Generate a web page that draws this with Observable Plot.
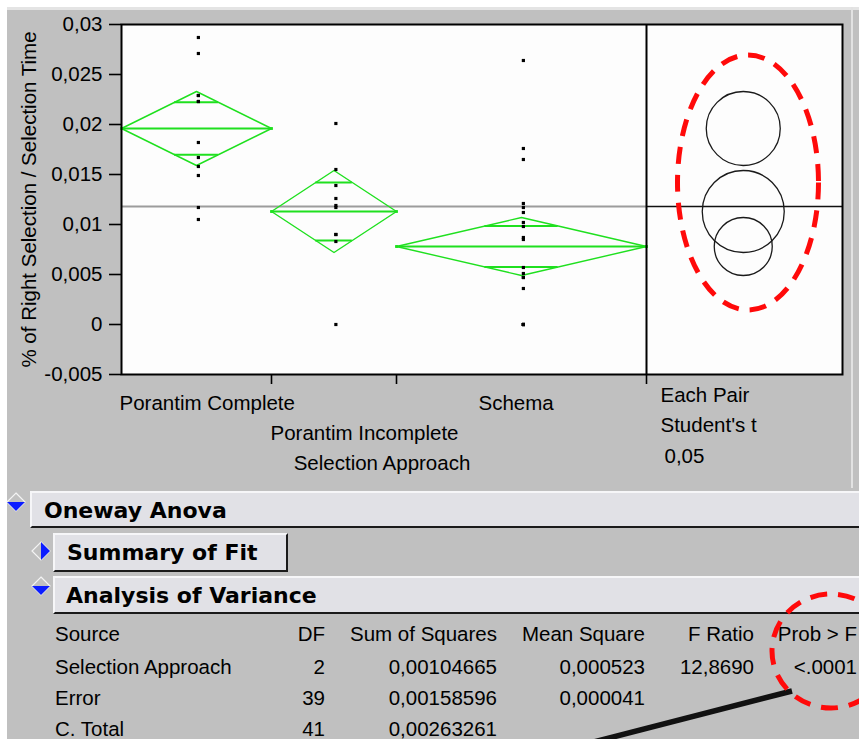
<!DOCTYPE html>
<html><head><meta charset="utf-8">
<script src="https://cdn.jsdelivr.net/npm/d3@7"></script>
<script src="https://cdn.jsdelivr.net/npm/@observablehq/plot@0.6"></script>
<style>
html,body{margin:0;padding:0;background:#fff;width:859px;height:739px;overflow:hidden;position:relative;}
#page{position:absolute;left:7px;top:7px;width:852px;height:732px;background:#c0c0c0;border-top:3px solid #e4e4e4;box-sizing:border-box;}
#vline{position:absolute;left:851px;top:7px;width:2px;height:481px;background:#e2e2e2;}
#chart{position:absolute;left:0;top:0;}
.bar{position:absolute;background:#e1e1e6;box-sizing:border-box;border-top:2px solid #f6f6f8;border-left:2px solid #f6f6f8;border-bottom:2px solid #1a1a1a;}
.btn{position:absolute;background:#e1e1e6;box-sizing:border-box;border-top:2px solid #f6f6f8;border-left:2px solid #f6f6f8;border-bottom:2px solid #1a1a1a;border-right:2px solid #1a1a1a;}
.bt{position:absolute;font-family:"DejaVu Sans",Verdana,sans-serif;font-weight:bold;font-size:22px;line-height:22px;color:#000;white-space:nowrap;}
.cell{position:absolute;font-family:"Liberation Sans",Arial,sans-serif;font-size:20.5px;line-height:20.5px;color:#000;white-space:nowrap;}
#overlay{position:absolute;left:0;top:0;pointer-events:none;}
</style>
</head><body>
<div id="page"></div>
<div id="vline"></div>
<div id="chart"></div>
<div id="bottom"></div>
<script>
// ---------- data ----------
const groups = ["Porantim Complete", "Porantim Incomplete", "Schema"];
const groupN = [12, 10, 20];
const groupMeans = [0.0196, 0.0113, 0.0078];
const groupHalfCI = [0.0037, 0.0041, 0.0029];
const pcValues = [0.0287, 0.0271, 0.0229, 0.0229, 0.0223, 0.0223, 0.0182, 0.0167, 0.0158, 0.0149, 0.0117, 0.0105];
const piValues = [0.0201, 0.0155, 0.0139, 0.0126, 0.0119, 0.0117, 0.0090, 0.0090, 0.0083, 0.0];
const schemaValues = [0.0264, 0.0176, 0.0165, 0.0121, 0.0117, 0.0112, 0.0102, 0.0098, 0.0087, 0.0085, 0.0057, 0.0051, 0.0047, 0.0047, 0.0036, 0, 0, 0, 0, 0];
const grandMean = 0.0118;
const yTicks = [-0.005, 0, 0.005, 0.01, 0.015, 0.02, 0.025, 0.03];
const yLabel = "% of Right Selection / Selection Time";
const xLabel = "Selection Approach";
const compareLabels = ["Each Pair", "Student's t", "0,05"];
const anovaHeader = ["Source", "DF", "Sum of Squares", "Mean Square", "F Ratio", "Prob > F"];
const anovaSources = ["Selection Approach", "Error", "C. Total"];
const anovaDF = ["2", "39", "41"];
const anovaSS = ["0,00104665", "0,00158596", "0,00263261"];
const anovaMS = ["0,000523", "0,000041", ""];
const anovaF = ["12,8690", "", ""];
const anovaP = ["<.0001", "", ""];
const sectionTitles = ["Oneway Anova", "Summary of Fit", "Analysis of Variance"];

// ---------- layout ----------
const W = 859, H = 480, mL = 121, mT = 24, mR = 17, mB = 106;
const green = "#1fe01f";
const nTotal = d3.sum(groupN);
const ends = d3.cumsum(groupN);
const starts = ends.map((e, i) => e - groupN[i]);
const panelUnits = 15.68;            // width of the comparison-circle panel (x units)
const panelCenter = nTotal + panelUnits / 2 - 0.1;
const yDomain = [-0.005, 0.03];
const ppu = (H - mT - mB) / (yDomain[1] - yDomain[0]);
const ellipseNote = {x: 50.16, y: 0.01415, rx: 5.64, ry: 0.01275};

const values = [pcValues, piValues, schemaValues];
const points = values.flatMap((vs, i) => vs.map(v => ({g: groups[i], x: (starts[i] + ends[i]) / 2 + 0.15, y: v})));
const rows = groups.map((g, i) => ({g, x0: starts[i], x1: ends[i], xm: (starts[i] + ends[i]) / 2, m: groupMeans[i], h: groupHalfCI[i]}));
const diamond = rows.flatMap(r => [[r.x0, r.m], [r.xm, r.m + r.h], [r.x1, r.m], [r.xm, r.m - r.h], [r.x0, r.m]].map(([x, y]) => ({g: r.g, x, y})));
const overlap = rows.flatMap(r => {
  const d = r.h / Math.SQRT2, half = (r.x1 - r.x0) / 2 * (1 - 1 / Math.SQRT2);
  return [r.m + d, r.m - d].map(y => ({y, x1: r.xm - half, x2: r.xm + half}));
});
const tips = rows.flatMap(r => [{x: r.x0, y: r.m}, {x: r.x1, y: r.m}]);
const fmt = v => String(v).replace(".", ",");

const plot = Plot.plot({
  width: W, height: H,
  marginLeft: mL, marginTop: mT, marginRight: mR, marginBottom: mB,
  style: {background: "transparent", fontFamily: "'Liberation Sans', Arial, sans-serif", fontSize: "20.5px", color: "#000"},
  x: {domain: [0, nTotal + panelUnits]},
  y: {domain: yDomain},
  r: {type: "linear", domain: [0, 0.01], range: [0, 0.01 * ppu]},
  marks: [
    Plot.frame({fill: "#fdfdfd", stroke: null}),
    Plot.ruleY([grandMean], {x1: 0, x2: nTotal, stroke: "#9c9c9c", strokeWidth: 2}),
    Plot.ruleY([grandMean], {x1: nTotal, x2: nTotal + panelUnits, stroke: "#111", strokeWidth: 1.6}),
    Plot.line(diamond, {x: "x", y: "y", z: "g", stroke: green, strokeWidth: 1.4}),
    Plot.ruleY(rows, {y: "m", x1: "x0", x2: "x1", stroke: green, strokeWidth: 2}),
    Plot.ruleY(overlap, {y: "y", x1: "x1", x2: "x2", stroke: green, strokeWidth: 2}),
    Plot.dot(tips, {x: "x", y: "y", symbol: "square", r: 1.6, fill: green}),
    Plot.dot(points, {x: "x", y: "y", symbol: "square", r: 1.8, fill: "#000"}),
    Plot.dot(rows, {x: panelCenter, y: "m", r: "h", stroke: "#1a1a1a", fill: "none", strokeWidth: 1.3}),
    (index, scales) => {
      const cx = scales.x(ellipseNote.x), cy = scales.y(ellipseNote.y);
      const rx = scales.x(ellipseNote.x + ellipseNote.rx) - cx;
      const ry = scales.y(ellipseNote.y - ellipseNote.ry) - cy;
      return d3.create("svg:ellipse").attr("cx", cx).attr("cy", cy).attr("rx", rx).attr("ry", ry)
        .attr("fill", "none").attr("stroke", "#ff0a0a").attr("stroke-width", 5).attr("stroke-dasharray", "17 11").node();
    },
    Plot.ruleX([nTotal], {stroke: "#000", strokeWidth: 2}),
    Plot.frame({stroke: "#000", strokeWidth: 2}),
    Plot.axisY({ticks: yTicks, tickSize: 12, tickPadding: 7, tickFormat: fmt, label: null, strokeWidth: 1.6}),
    Plot.axisX({ticks: ends, tickSize: 10, tickFormat: () => "", label: null, strokeWidth: 1.6}),
    Plot.text([yLabel], {frameAnchor: "left", textAnchor: "middle", lineAnchor: "middle", dx: -92, rotate: -90, fontSize: 20.5}),
    Plot.text([groups[0]], {x: starts[0], frameAnchor: "bottom", lineAnchor: "top", textAnchor: "start", dx: -2, dy: 21}),
    Plot.text([groups[1]], {x: starts[1], frameAnchor: "bottom", lineAnchor: "top", textAnchor: "start", dx: -1, dy: 51}),
    Plot.text([groups[2]], {x: starts[2], frameAnchor: "bottom", lineAnchor: "top", textAnchor: "start", dx: 82, dy: 21}),
    Plot.text([xLabel], {x: nTotal / 2, frameAnchor: "bottom", lineAnchor: "top", textAnchor: "middle", dx: -2, dy: 81}),
    Plot.text([compareLabels[0]], {x: nTotal, frameAnchor: "bottom", lineAnchor: "top", textAnchor: "start", dx: 14, dy: 13}),
    Plot.text([compareLabels[1]], {x: nTotal, frameAnchor: "bottom", lineAnchor: "top", textAnchor: "start", dx: 14, dy: 43}),
    Plot.text([compareLabels[2]], {x: nTotal, frameAnchor: "bottom", lineAnchor: "top", textAnchor: "start", dx: 18, dy: 74})
  ]
});
document.getElementById("chart").appendChild(plot);

// ---------- report section below the chart ----------
const bottom = document.getElementById("bottom");
function add(cls, css, text) {
  const d = document.createElement("div");
  d.className = cls; d.style.cssText = css;
  if (text !== undefined) d.textContent = text;
  bottom.appendChild(d);
  return d;
}
add("bar", "left:30px;top:491px;width:840px;height:37px;");
add("btn", "left:53px;top:533px;width:235px;height:39px;");
add("bar", "left:53px;top:576px;width:820px;height:38px;");
add("bt", "left:44px;top:500px;", sectionTitles[0]);
add("bt", "left:67px;top:542px;", sectionTitles[1]);
add("bt", "left:66px;top:584.5px;", sectionTitles[2]);

const baselines = [641, 674, 705, 736];
const rights = [null, 325, 497, 645, 754, 857];
const cols = [anovaHeader];
anovaSources.forEach((s, i) => cols.push([s, anovaDF[i], anovaSS[i], anovaMS[i], anovaF[i], anovaP[i]]));
cols.forEach((row, r) => {
  row.forEach((txt, c) => {
    if (!txt) return;
    const top = baselines[r] - 17.4;
    if (c === 0) add("cell", `left:55px;top:${top}px;`, txt);
    else add("cell", `right:${859 - rights[c]}px;top:${top}px;`, txt);
  });
});

// disclosure icons and annotations
const ov = d3.select("body").append("svg").attr("id", "overlay").attr("width", 859).attr("height", 739);
function icon(cx, cy, dir) {
  const s = 9, pts = [[cx, cy - s], [cx + s, cy], [cx, cy + s], [cx - s, cy]];
  ov.append("polygon").attr("points", pts.join(" ")).attr("fill", "#c0c0c0").attr("stroke", "#f4f4f4").attr("stroke-width", 1.2);
  const tri = dir === "down" ? [[cx - s, cy], [cx + s, cy], [cx, cy + s]] : [[cx, cy - s], [cx + s, cy], [cx, cy + s]];
  ov.append("polygon").attr("points", tri.join(" ")).attr("fill", "#0b1cff");
}
icon(16, 502, "down");
icon(41, 551, "right");
icon(41, 586, "down");
ov.append("line").attr("x1", 792).attr("y1", 691).attr("x2", 578).attr("y2", 746)
  .attr("stroke", "#111").attr("stroke-width", 5.5);
ov.append("ellipse").attr("cx", 831).attr("cy", 651).attr("rx", 59).attr("ry", 57)
  .attr("fill", "none").attr("stroke", "#ff0a0a").attr("stroke-width", 5).attr("stroke-dasharray", "17 11");
</script>
</body></html>
